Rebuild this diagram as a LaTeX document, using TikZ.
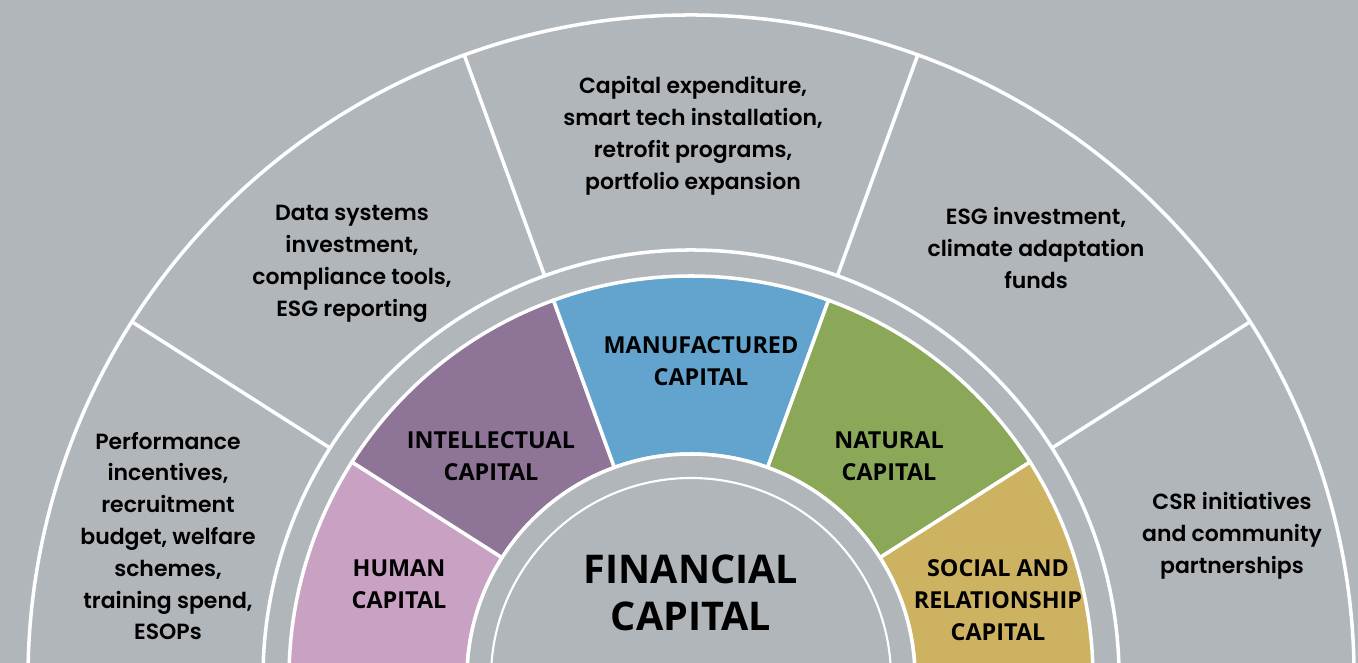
\documentclass[tikz,border=0pt]{standalone}
\usepackage{fontspec}
\setmainfont{Open Sans}
\newfontfamily\ringfont{Poppins SemiBold}
\usepackage{xcolor}
\definecolor{bggray}{HTML}{B1B6BB}
\definecolor{humanpink}{HTML}{C8A1C3}
\definecolor{intelpurple}{HTML}{8E7598}
\definecolor{manublue}{HTML}{63A4CE}
\definecolor{natgreen}{HTML}{8BA758}
\definecolor{socgold}{HTML}{CDB262}

\begin{document}
\begin{tikzpicture}[every node/.style={align=center,text=black,inner sep=0pt},
  ring/.style={font=\ringfont\fontsize{12.5}{18.1}\selectfont},
  capital/.style={font=\bfseries\fontsize{13.3}{18.1}\selectfont},
  sep/.style={draw=white,line width=2pt}]
\useasboundingbox (-13.82,0.3) rectangle (13.34,13.56);
\clip (-13.82,0.3) rectangle (13.34,13.56);
\fill[bggray] (-13.82,0.3) rectangle (13.34,13.56);
\draw[sep] (-10:13.26) arc (-10:190:13.26);
\draw[sep] (-10:8.56) arc (-10:190:8.56);
\foreach \a in {32.5,70,110,147.5} \draw[sep] (\a:8.56) -- (\a:13.26);
\foreach \a/\b/\c in {147.5/190/humanpink,110/147.5/intelpurple,70/110/manublue,32.5/70/natgreen,-10/32.5/socgold}
  \filldraw[\c,sep] (\a:4.48) arc (\a:\b:4.48) -- (\b:8.04) arc (\b:\a:8.04) -- cycle;
\filldraw[bggray,sep] (0,0) circle (4.48);
\draw[white,line width=1.2pt] (0,0) circle (4.0);
\node[ring] (data) at (-6.78,8.28) {Data systems\\investment,\\compliance tools,\\ESG reporting};
\node[ring] (capex) at (0.04,10.84) {Capital expenditure,\\smart tech installation,\\retrofit programs,\\portfolio expansion};
\node[ring] (esg) at (6.9,8.6) {ESG investment,\\climate adaptation\\funds};
\node[ring] (perf) at (-10.46,2.84) {Performance\\incentives,\\recruitment\\budget, welfare\\schemes,\\training spend,\\ESOPs};
\node[ring] (csr) at (10.82,2.84) {CSR initiatives\\and community\\partnerships};
\node[capital] (human) at (-5.84,1.88) {HUMAN\\CAPITAL};
\node[capital] (intel) at (-4.0,4.44) {INTELLECTUAL\\CAPITAL};
\node[capital] (manu) at (0.2,6.34) {MANUFACTURED\\CAPITAL};
\node[capital] (nat) at (3.96,4.44) {NATURAL\\CAPITAL};
\node[capital] (soc) at (6.14,1.56) {SOCIAL AND\\RELATIONSHIP\\CAPITAL};
\node[capital,font=\bfseries\fontsize{22.5}{26.6}\selectfont] (fin) at (0,1.7) {FINANCIAL\\CAPITAL};
\end{tikzpicture}
\end{document}
